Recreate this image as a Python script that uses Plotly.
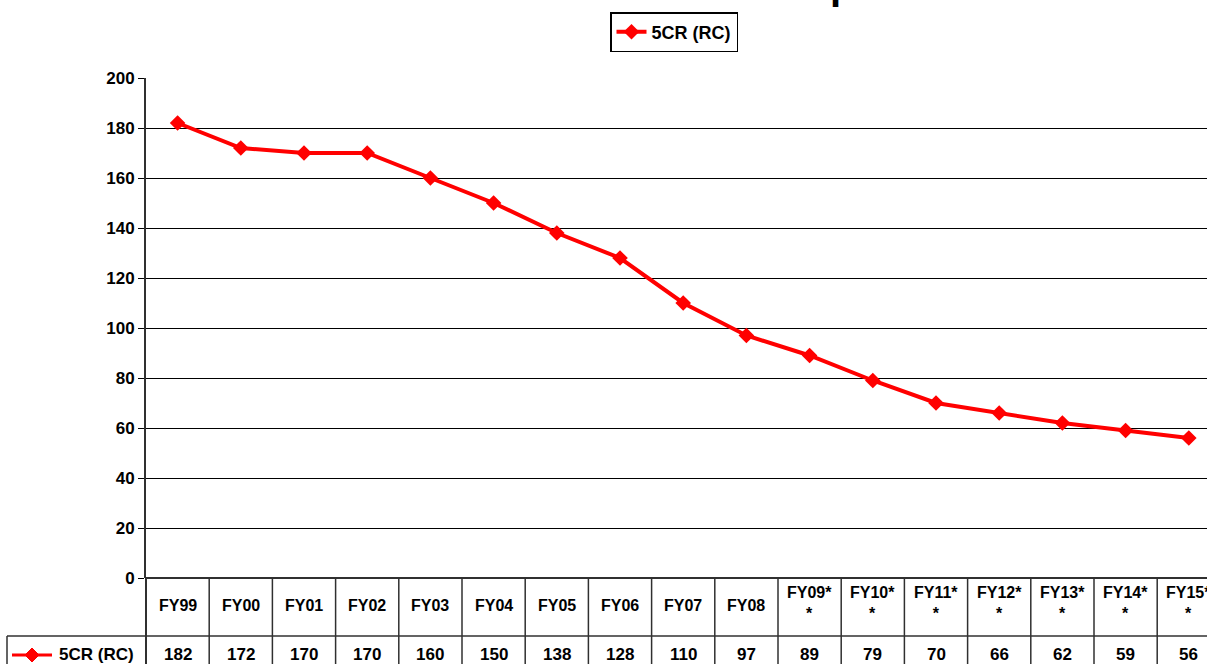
import plotly.graph_objects as go

# ---- data ----
categories = ["FY99", "FY00", "FY01", "FY02", "FY03", "FY04", "FY05", "FY06", "FY07", "FY08",
              "FY09**", "FY10**", "FY11**", "FY12**", "FY13**", "FY14**", "FY15**"]
values = [182, 172, 170, 170, 160, 150, 138, 128, 110, 97, 89, 79, 70, 66, 62, 59, 56]
series_name = "5CR (RC)"
y_ticks = [0, 20, 40, 60, 80, 100, 120, 140, 160, 180, 200]

# ---- geometry helpers ----
W, H = 1207, 664
L, R, T, B = 146, 0, 78, 86
PW, PH = W - L - R, H - T - B


def px_x(px):
    return (px - L) / PW


def px_y(py):
    return (H - B - py) / PH


FONT = "Liberation Sans, Arial, sans-serif"
RED = "#FF0000"
LINE = "#303030"

fig = go.Figure()
fig.add_trace(go.Scatter(
    x=categories, y=values, mode="lines+markers", name=series_name,
    line=dict(color=RED, width=4),
    marker=dict(symbol="diamond", size=12, color=RED),
    showlegend=True,
))

n = len(categories)
shapes = []
annotations = []

# vertical table lines at category boundaries
for i in range(n):
    shapes.append(dict(type="line", xref="x", yref="paper",
                       x0=i + 0.5, x1=i + 0.5, y0=0, y1=px_y(H + 5),
                       line=dict(color=LINE, width=1.5)))
# left axis extension through the table
shapes.append(dict(type="line", xref="paper", yref="paper",
                   x0=0, x1=0, y0=0, y1=px_y(H + 5),
                   line=dict(color=LINE, width=2)))
# horizontal separator between category row and value row
shapes.append(dict(type="line", xref="paper", yref="paper",
                   x0=px_x(7), x1=1, y0=px_y(636), y1=px_y(636),
                   line=dict(color=LINE, width=1.5)))
# left edge of row label box
shapes.append(dict(type="line", xref="paper", yref="paper",
                   x0=px_x(7), x1=px_x(7), y0=px_y(636), y1=px_y(H + 5),
                   line=dict(color=LINE, width=1.5)))
# row label legend icon
shapes.append(dict(type="line", xref="paper", yref="paper",
                   x0=px_x(12), x1=px_x(52), y0=px_y(655), y1=px_y(655),
                   line=dict(color=RED, width=3)))
cx, cy, r = 32, 655, 7
shapes.append(dict(type="path", xref="paper", yref="paper",
                   path="M {} {} L {} {} L {} {} L {} {} Z".format(
                       px_x(cx - r), px_y(cy), px_x(cx), px_y(cy - r),
                       px_x(cx + r), px_y(cy), px_x(cx), px_y(cy + r)),
                   fillcolor=RED, line=dict(color=RED, width=1)))

# category labels and values
for c, v in zip(categories, values):
    label = c.replace("**", "*<br>*") if c.endswith("**") else c
    two = "<br>" in label
    annotations.append(dict(xref="x", yref="paper", x=c, y=px_y(603 if two else 605),
                            text=label, showarrow=False, yanchor="middle",
                            font=dict(family=FONT, size=16, color="black", weight="bold")))
    annotations.append(dict(xref="x", yref="paper", x=c, y=px_y(654),
                            text=str(v), showarrow=False, yanchor="middle",
                            font=dict(family=FONT, size=17, color="black", weight="bold")))

annotations.append(dict(xref="paper", yref="paper", x=px_x(57), y=px_y(654),
                        text=series_name, showarrow=False, xanchor="left", yanchor="middle",
                        font=dict(family=FONT, size=17, color="black", weight="bold")))

# partially visible title glyph at top edge
annotations.append(dict(xref="paper", yref="paper", x=px_x(828), y=px_y(9),
                        text="p", showarrow=False, xanchor="left", yanchor="bottom",
                        font=dict(family=FONT, size=40, color="black", weight="bold")))

fig.update_layout(
    width=W, height=H,
    margin=dict(l=L, r=R, t=T, b=B),
    paper_bgcolor="white", plot_bgcolor="white",
    font=dict(family=FONT, color="black"),
    showlegend=True,
    legend=dict(x=px_x(610), y=px_y(12), xanchor="left", yanchor="top",
                bgcolor="white", bordercolor="black", borderwidth=1.5,
                font=dict(family=FONT, size=18, color="black", weight="bold")),
    xaxis=dict(type="category", range=[-0.5, -0.5 + PW / 63.2],
               showticklabels=False, showgrid=False, zeroline=False,
               showline=False, ticks=""),
    yaxis=dict(range=[0, 200], tickvals=y_ticks, showgrid=True, gridcolor="black",
               gridwidth=1, zeroline=True, zerolinecolor=LINE, zerolinewidth=1.5,
               showline=True, linecolor=LINE, linewidth=2,
               ticks="outside", ticklen=6, tickcolor="black", tickwidth=1,
               tickfont=dict(family=FONT, size=17, color="black", weight="bold")),
    shapes=shapes,
    annotations=annotations,
)

fig.write_html("out.html", config={"displayModeBar": False},
               post_script="document.body.style.margin='0';document.body.style.overflow='hidden';")
